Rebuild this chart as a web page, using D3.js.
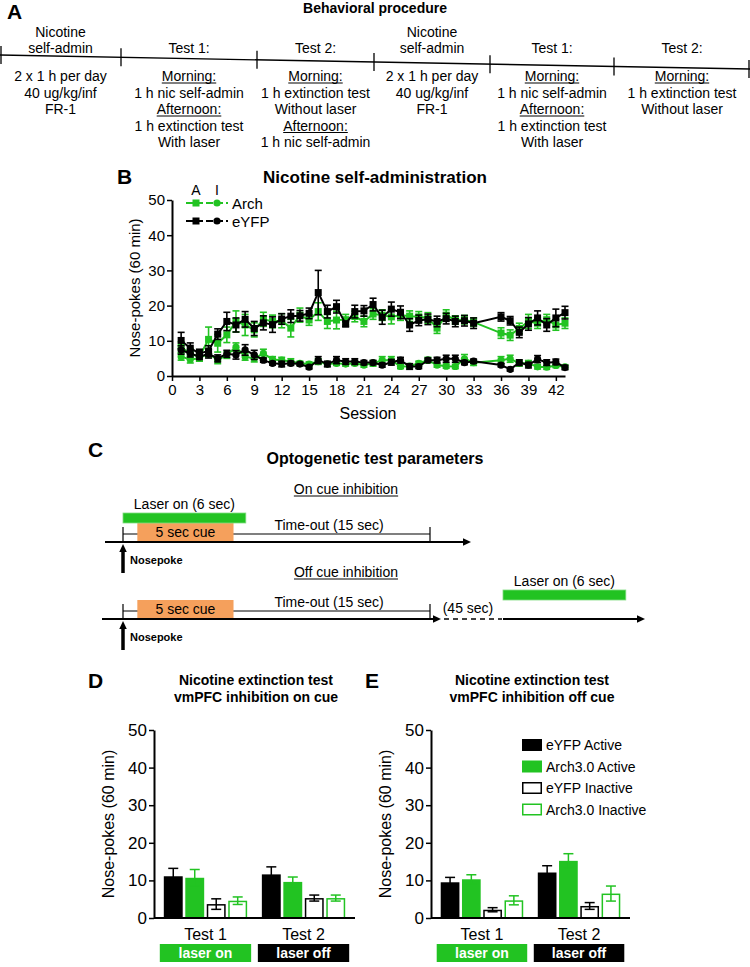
<!DOCTYPE html>
<html>
<head>
<meta charset="utf-8">
<script src="https://cdn.jsdelivr.net/npm/d3@7"></script>
<style>
body{margin:0;background:#fff;}
svg{display:block;font-family:"Liberation Sans",Arial,Helvetica,sans-serif;}
</style>
</head>
<body>
<div id="chart"></div>
<script>
// ---- panel A: procedure ----
var phaseTitles = [["Nicotine", "self-admin"], ["Test 1:"], ["Test 2:"], ["Nicotine", "self-admin"], ["Test 1:"], ["Test 2:"]];
var phaseDetails = [
    ["2 x 1 h per day", "40 ug/kg/inf", "FR-1"],
    ["_Morning:", "1 h nic self-admin", "_Afternoon:", "1 h extinction test", "With laser"],
    ["_Morning:", "1 h extinction test", "Without laser", "_Afternoon:", "1 h nic self-admin"],
    ["2 x 1 h per day", "40 ug/kg/inf", "FR-1"],
    ["_Morning:", "1 h nic self-admin", "_Afternoon:", "1 h extinction test", "With laser"],
    ["_Morning:", "1 h extinction test", "Without laser"]
];

// ---- panel B: self-administration sessions ----
var sessions = [1,2,3,4,5,6,7,8,9,10,11,12,13,14,15,16,17,18,19,20,21,22,23,24,25,26,27,28,29,30,31,32,33,36,37,38,39,40,41,42,43];
var archActive = [8.2,6.3,5.5,10.4,9.3,11.7,15.5,14.5,13.1,16.1,15.5,15.7,13.6,17.3,15.9,18.3,15.5,15.9,16.0,16.9,15.5,17.6,17.3,16.8,17.3,17.0,16.8,16.5,13.6,17.3,15.9,16.0,15.3,12.2,11.6,13.5,15.5,15.0,16.0,14.5,15.0];
var archActiveErr = [1.5,1.5,1.2,3.5,2.5,2.2,3.0,3.0,2.0,2.0,1.8,2.0,2.5,2.0,1.5,2.5,2.0,2.5,1.5,1.5,1.5,1.5,1.5,2.0,1.5,1.5,1.5,1.5,1.5,1.5,1.2,1.2,1.2,1.5,1.5,1.5,2.0,1.5,1.5,1.5,1.5];
var archInactive = [5.5,4.7,5.0,6.4,4.5,6.0,8.2,5.5,5.0,6.4,4.7,4.5,4.1,3.6,3.4,4.1,3.4,3.6,3.4,3.6,3.1,3.6,4.5,4.5,2.7,2.8,3.6,4.5,3.1,2.8,2.7,4.9,3.8,4.5,4.9,3.6,3.6,2.6,2.5,3.0,2.6];
var archInactiveErr = [1.0,1.0,0.8,1.0,1.0,1.0,1.2,1.0,1.0,1.2,0.8,0.8,0.8,0.6,0.6,0.8,0.6,0.6,0.6,0.6,0.6,0.8,1.0,1.0,0.6,0.6,0.6,0.8,0.6,0.6,0.6,1.2,0.8,1.0,1.0,0.8,0.8,0.6,0.6,0.6,0.6];
var eyfpActive = [10.1,7.9,6.4,7.1,11.9,15.5,14.5,16.1,13.5,15.1,14.6,16.2,17.0,17.1,17.8,23.7,18.3,19.7,14.8,18.3,18.5,20.3,16.7,19.0,18.1,14.5,15.8,16.1,15.5,16.3,15.5,15.7,15.0,16.8,15.7,12.4,14.8,16.5,14.5,16.5,18.0];
var eyfpActiveErr = [2.3,1.5,1.2,1.5,1.5,2.6,2.0,2.2,2.0,2.0,2.2,1.5,1.8,1.5,1.5,6.3,1.8,1.8,0.8,1.8,1.5,1.8,2.0,2.0,1.8,1.8,1.5,1.5,1.5,1.5,1.5,1.5,1.5,1.2,1.2,1.5,1.8,2.0,1.8,2.5,1.8];
var eyfpInactive = [7.4,6.4,5.5,6.3,5.0,6.3,6.0,7.4,6.0,4.5,3.6,3.4,3.6,3.4,2.5,4.5,3.4,4.5,4.1,4.1,3.8,3.8,3.1,3.9,4.5,2.7,2.7,4.5,4.5,4.9,4.9,3.8,4.2,3.1,1.9,3.8,3.1,4.8,3.8,4.0,2.4];
var eyfpInactiveErr = [1.2,1.0,0.8,1.2,1.0,1.0,1.2,1.5,1.3,0.6,0.5,0.8,0.6,0.5,0.5,1.0,0.8,1.0,0.8,0.8,0.6,0.6,0.6,0.8,0.8,0.8,0.6,0.6,0.8,1.0,1.0,0.6,0.6,0.5,0.5,0.8,0.8,1.0,0.8,0.8,0.6];
var sessionTicks = [0,3,6,9,12,15,18,21,24,27,30,33,36,39,42];
var pokeTicks = [0,10,20,30,40,50];

// ---- panel C: timing (sec) ----
var laserOn = [0, 6];
var cueOn = [0.7, 5.4];
var timeOut = [0, 15];

// ---- panels D, E: extinction tests ----
var tests = ["Test 1", "Test 2"];
var groups = ["eYFP Active", "Arch3.0 Active", "eYFP Inactive", "Arch3.0 Inactive"];
var onCueMeans = [[11.1, 10.7, 3.7, 4.6], [11.6, 9.6, 5.3, 5.3]];
var onCueSem = [[2.1, 2.2, 1.4, 1.0], [2.0, 1.3, 0.8, 0.8]];
var offCueMeans = [[9.5, 10.3, 2.2, 4.7], [12.1, 15.2, 3.2, 6.5]];
var offCueSem = [[1.3, 1.2, 0.55, 1.2], [1.8, 1.9, 0.9, 2.0]];
var laserLabels = ["laser on", "laser off"];

var GREEN = "#22c322";
var ORANGE = "#f5a05c";

var svg = d3.select("#chart").append("svg").attr("width", 750).attr("height", 967);
svg.append("rect").attr("width", 750).attr("height", 967).attr("fill", "#fff");

function addText(g, x, y, s, size, opts){
    opts = opts || {};
    var t = g.append("text").attr("x", x).attr("y", y)
        .attr("font-size", size)
        .attr("text-anchor", opts.anchor || "middle")
        .attr("font-weight", opts.bold ? "bold" : "normal")
        .attr("fill", opts.fill || "#000")
        .text(s);
    if (opts.underline){
        var w = t.node().getComputedTextLength();
        var x0 = (opts.anchor === "start") ? x : x - w/2;
        g.append("line").attr("x1", x0).attr("x2", x0 + w).attr("y1", y + 2).attr("y2", y + 2)
            .attr("stroke", opts.fill || "#000").attr("stroke-width", 1);
    }
    return t;
}

function drawProcedure(){
    var g = svg.append("g");
    addText(g, 7, 19, "A", 21, {anchor: "start", bold: true});
    addText(g, 375, 13, "Behavioral procedure", 14, {bold: true});
    var edges = [0, 121, 257, 374, 490, 614, 750];
    var lineY = d3.scaleLinear().domain([0, 750]).range([55, 69]);
    g.append("line").attr("x1", 0).attr("y1", lineY(0)).attr("x2", 750).attr("y2", lineY(750))
        .attr("stroke", "#000").attr("stroke-width", 1.3);
    edges.forEach(function(x){
        var xx = Math.min(Math.max(x, 1), 749);
        g.append("line").attr("x1", xx).attr("x2", xx).attr("y1", lineY(x) - 9).attr("y2", lineY(x) + 9)
            .attr("stroke", "#000").attr("stroke-width", 1.3);
    });
    phaseTitles.forEach(function(lines, i){
        var cx = (edges[i] + edges[i+1]) / 2;
        lines.forEach(function(l, j){
            var y = (lines.length === 2) ? 37 + j*16 : 53;
            addText(g, cx, y, l, 14);
        });
    });
    phaseDetails.forEach(function(lines, i){
        var cx = (edges[i] + edges[i+1]) / 2;
        lines.forEach(function(l, j){
            var u = l.charAt(0) === "_";
            addText(g, cx, 81 + j*16.5, u ? l.substring(1) : l, 14, {underline: u});
        });
    });
}

function drawSessions(){
    var g = svg.append("g");
    var x = d3.scaleLinear().domain([0, 43]).range([172, 565]);
    var y = d3.scaleLinear().domain([0, 50]).range([376, 200]);

    addText(g, 117, 184, "B", 21, {anchor: "start", bold: true});
    addText(g, 375, 183, "Nicotine self-administration", 17, {bold: true});

    var xAxis = g.append("g").attr("transform", "translate(0," + y(0) + ")")
        .call(d3.axisBottom(x).tickValues(sessionTicks).tickSize(5).tickSizeOuter(0).tickPadding(3));
    var yAxis = g.append("g").attr("transform", "translate(" + x(0) + ",0)")
        .call(d3.axisLeft(y).tickValues(pokeTicks).tickSize(5).tickSizeOuter(0).tickPadding(2));
    [xAxis, yAxis].forEach(function(a){
        a.select(".domain").attr("stroke-width", 2);
        a.selectAll(".tick line").attr("stroke-width", 1.5);
        a.selectAll("text").attr("font-size", 15).attr("font-family", "Liberation Sans, Arial, sans-serif").attr("fill", "#000");
    });
    addText(g, 368, 419, "Session", 16);
    addText(g, 0, 0, "Nose-pokes (60 min)", 15).attr("transform", "translate(140,288) rotate(-90)");

    var series = [
        {v: archActive, e: archActiveErr, c: GREEN, shape: "square"},
        {v: archInactive, e: archInactiveErr, c: GREEN, shape: "circle"},
        {v: eyfpInactive, e: eyfpInactiveErr, c: "#000", shape: "circle"},
        {v: eyfpActive, e: eyfpActiveErr, c: "#000", shape: "square"}
    ];
    var line = d3.line().x(function(d){ return x(d.s); }).y(function(d){ return y(d.v); });
    series.forEach(function(ser){
        var pts = sessions.map(function(s, i){ return {s: s, v: ser.v[i], e: ser.e[i]}; });
        var sg = g.append("g");
        sg.append("path").datum(pts).attr("d", line).attr("fill", "none")
            .attr("stroke", ser.c).attr("stroke-width", 2);
        var eb = sg.selectAll(".eb").data(pts).enter().append("g");
        eb.append("line").attr("x1", function(d){ return x(d.s); }).attr("x2", function(d){ return x(d.s); })
            .attr("y1", function(d){ return y(d.v - d.e); }).attr("y2", function(d){ return y(d.v + d.e); })
            .attr("stroke", ser.c).attr("stroke-width", 1.6);
        [1, -1].forEach(function(sign){
            eb.append("line").attr("x1", function(d){ return x(d.s) - 3.5; }).attr("x2", function(d){ return x(d.s) + 3.5; })
                .attr("y1", function(d){ return y(d.v + sign*d.e); }).attr("y2", function(d){ return y(d.v + sign*d.e); })
                .attr("stroke", ser.c).attr("stroke-width", 1.6);
        });
        if (ser.shape === "square"){
            sg.selectAll(".pt").data(pts).enter().append("rect")
                .attr("x", function(d){ return x(d.s) - 3.5; }).attr("y", function(d){ return y(d.v) - 3.5; })
                .attr("width", 7).attr("height", 7).attr("fill", ser.c);
        } else {
            sg.selectAll(".pt").data(pts).enter().append("circle")
                .attr("cx", function(d){ return x(d.s); }).attr("cy", function(d){ return y(d.v); })
                .attr("r", 3.6).attr("fill", ser.c);
        }
    });

    // legend
    addText(g, 196, 195, "A", 14);
    addText(g, 217, 195, "I", 14);
    [{c: GREEN, t: "Arch", y: 203}, {c: "#000", t: "eYFP", y: 221}].forEach(function(l){
        g.append("line").attr("x1", 186).attr("x2", 228).attr("y1", l.y).attr("y2", l.y)
            .attr("stroke", l.c).attr("stroke-width", 2).attr("stroke-dasharray", "7,3");
        g.append("rect").attr("x", 192.5).attr("y", l.y - 3.5).attr("width", 7).attr("height", 7).attr("fill", l.c);
        g.append("circle").attr("cx", 217).attr("cy", l.y).attr("r", 3.6).attr("fill", l.c);
        addText(g, 232, l.y + 5.5, l.t, 15, {anchor: "start"});
    });
}

function arrowHead(g, x, y, dir, size){
    var s = size || 6;
    var p = (dir === "right") ? [[x, y], [x - s*1.6, y - s*0.75], [x - s*1.6, y + s*0.75]]
                              : [[x, y], [x - s*0.75, y + s*1.6], [x + s*0.75, y + s*1.6]];
    g.append("path").attr("d", "M" + p.join("L") + "Z").attr("fill", "#000");
}

function drawTimeline(g, yBase, offCue){
    var t = d3.scaleLinear().domain([0, 15]).range([123, 430]);
    var tickTop = yBase - 15;
    var mid = yBase - 8;
    // main time line
    if (!offCue){
        g.append("line").attr("x1", 105).attr("x2", 466).attr("y1", yBase).attr("y2", yBase).attr("stroke", "#000").attr("stroke-width", 2);
        arrowHead(g, 471, yBase, "right", 5);
    } else {
        g.append("line").attr("x1", 102).attr("x2", 436).attr("y1", yBase).attr("y2", yBase).attr("stroke", "#000").attr("stroke-width", 2);
        arrowHead(g, 441, yBase, "right", 5);
        g.append("line").attr("x1", 444).attr("x2", 502).attr("y1", yBase).attr("y2", yBase)
            .attr("stroke", "#000").attr("stroke-width", 1.3).attr("stroke-dasharray", "5,4");
        g.append("line").attr("x1", 503).attr("x2", 640).attr("y1", yBase).attr("y2", yBase).attr("stroke", "#000").attr("stroke-width", 2);
        arrowHead(g, 645, yBase, "right", 5);
        addText(g, 468, yBase - 6, "(45 sec)", 14);
    }
    // time-out bracket
    g.append("line").attr("x1", t(timeOut[0])).attr("x2", t(timeOut[1])).attr("y1", mid).attr("y2", mid).attr("stroke", "#000").attr("stroke-width", 1.2);
    [timeOut[0], timeOut[1]].forEach(function(v){
        g.append("line").attr("x1", t(v)).attr("x2", t(v)).attr("y1", tickTop).attr("y2", yBase).attr("stroke", "#000").attr("stroke-width", 1.2);
    });
    addText(g, 329, yBase - 12, "Time-out (15 sec)", 14);
    // cue
    g.append("rect").attr("x", t(cueOn[0])).attr("y", yBase - 19).attr("width", t(cueOn[1]) - t(cueOn[0])).attr("height", 18)
        .attr("fill", ORANGE);
    addText(g, (t(cueOn[0]) + t(cueOn[1])) / 2, yBase - 5, "5 sec cue", 14);
    // laser
    var lx = offCue ? 503 : t(laserOn[0]);
    var lw = t(laserOn[1]) - t(laserOn[0]);
    var ly = yBase - 29;
    g.append("rect").attr("x", lx).attr("y", ly).attr("width", lw).attr("height", 10)
        .attr("fill", GREEN).attr("stroke", "#7fdc7f").attr("stroke-width", 0.8);
    addText(g, lx + lw/2, ly - 4, "Laser on (6 sec)", 14);
    // nose poke
    g.append("line").attr("x1", 123).attr("x2", 123).attr("y1", yBase + 31).attr("y2", yBase + 10).attr("stroke", "#000").attr("stroke-width", 3.5);
    arrowHead(g, 123, yBase + 2, "up", 5);
    addText(g, 130, yBase + 22, "Nosepoke", 11, {anchor: "start", bold: true});
}

function drawParameters(){
    var g = svg.append("g");
    addText(g, 88, 457, "C", 21, {anchor: "start", bold: true});
    addText(g, 375, 464, "Optogenetic test parameters", 16, {bold: true});
    addText(g, 346, 494, "On cue inhibition", 14, {underline: true});
    drawTimeline(g, 542, false);
    addText(g, 346, 577, "Off cue inhibition", 14, {underline: true});
    drawTimeline(g, 619, true);
}

function drawBars(cfg){
    var g = svg.append("g");
    var y = d3.scaleLinear().domain([0, 50]).range([918, 730]);
    var x0 = d3.scaleBand().domain(tests).range([cfg.x0, cfg.x1]).paddingInner(0.15).paddingOuter(0.1);
    var x1 = d3.scaleBand().domain(groups).range([0, x0.bandwidth()]).paddingInner(0.12);
    var fills = ["#000", GREEN, "#fff", "#fff"];
    var strokes = ["#000", GREEN, "#000", GREEN];

    addText(g, cfg.x0 - 66, 688, cfg.letter, 21, {anchor: "start", bold: true});
    addText(g, cfg.titleX, 685, "Nicotine extinction test", 14, {bold: true});
    addText(g, cfg.titleX, 702, cfg.subtitle, 14, {bold: true});

    tests.forEach(function(test, ti){
        var bg = g.append("g").attr("transform", "translate(" + x0(test) + ",0)");
        groups.forEach(function(grp, gi){
            var m = cfg.means[ti][gi], e = cfg.sem[ti][gi];
            var bx = x1(grp), bw = x1.bandwidth(), cx = bx + bw/2;
            var inset = gi >= 2 ? 0.75 : 0;
            bg.append("rect").attr("x", bx + inset).attr("y", y(m) + inset)
                .attr("width", bw - inset*2).attr("height", y(0) - y(m) - inset)
                .attr("fill", fills[gi]).attr("stroke", gi >= 2 ? strokes[gi] : "none").attr("stroke-width", 1.5);
            bg.append("line").attr("x1", cx).attr("x2", cx).attr("y1", y(m - e)).attr("y2", y(m + e))
                .attr("stroke", strokes[gi]).attr("stroke-width", 1.5);
            [1, -1].forEach(function(sign){
                bg.append("line").attr("x1", cx - 5).attr("x2", cx + 5).attr("y1", y(m + sign*e)).attr("y2", y(m + sign*e))
                    .attr("stroke", strokes[gi]).attr("stroke-width", 1.5);
            });
        });
        var cx = x0(test) + x0.bandwidth()/2;
        addText(g, cx, 940, test, 16);
        g.append("rect").attr("x", x0(test) - 4).attr("y", 944).attr("width", x0.bandwidth() + 8).attr("height", 18)
            .attr("fill", ti === 0 ? GREEN : "#000");
        addText(g, cx, 958, laserLabels[ti], 14, {bold: true, fill: "#fff"});
    });

    var yAxis = g.append("g").attr("transform", "translate(" + cfg.x0 + ",0)")
        .call(d3.axisLeft(y).tickValues(pokeTicks).tickSize(5).tickSizeOuter(0).tickPadding(2));
    yAxis.select(".domain").attr("stroke-width", 2);
    yAxis.selectAll(".tick line").attr("stroke-width", 1.5);
    yAxis.selectAll("text").attr("font-size", 17).attr("font-family", "Liberation Sans, Arial, sans-serif").attr("fill", "#000");
    g.append("line").attr("x1", cfg.x0).attr("x2", cfg.x1).attr("y1", y(0)).attr("y2", y(0))
        .attr("stroke", "#000").attr("stroke-width", 2);
    addText(g, 0, 0, "Nose-pokes (60 min)", 16).attr("transform", "translate(" + (cfg.x0 - 40) + ",824) rotate(-90)");

    if (cfg.legend){
        groups.forEach(function(grp, gi){
            var ly = 745 + gi*21.5;
            var inset = gi >= 2 ? 0.75 : 0;
            g.append("rect").attr("x", 522 + inset).attr("y", ly - 6 + inset).attr("width", 20 - inset*2).attr("height", 12 - inset*2)
                .attr("fill", fills[gi]).attr("stroke", strokes[gi]).attr("stroke-width", gi >= 2 ? 1.5 : 0);
            addText(g, 546, ly + 5, grp, 14, {anchor: "start"});
        });
    }
}

drawProcedure();
drawSessions();
drawParameters();
drawBars({x0: 154, x1: 355, letter: "D", titleX: 256, subtitle: "vmPFC inhibition on cue", means: onCueMeans, sem: onCueSem, legend: false});
drawBars({x0: 431, x1: 630, letter: "E", titleX: 532, subtitle: "vmPFC inhibition off cue", means: offCueMeans, sem: offCueSem, legend: true});
</script>
</body>
</html>
